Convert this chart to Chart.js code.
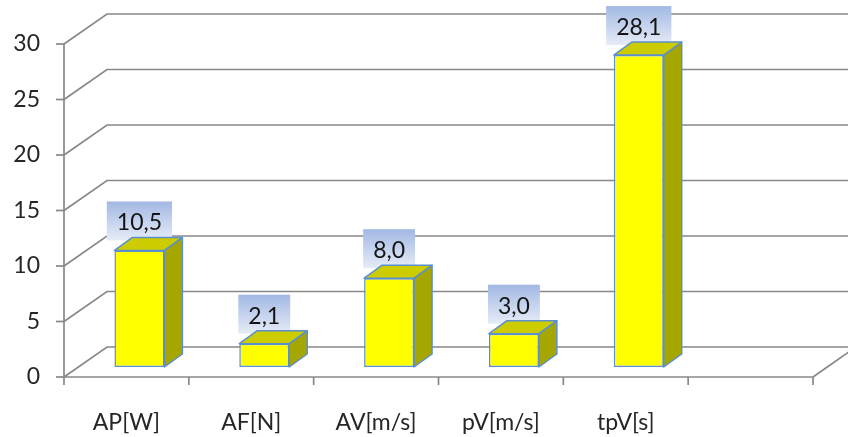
<!DOCTYPE html>
<html>
<head>
<meta charset="utf-8">
<script src="https://cdn.jsdelivr.net/npm/chart.js@4.4.1/dist/chart.umd.min.js"></script>
<style>
  html, body { margin: 0; padding: 0; background: #ffffff; }
  #wrap { width: 848px; height: 437px; }
</style>
</head>
<body>
<div id="wrap"><canvas id="chart" width="848" height="437"></canvas></div>
<script>
// Categories and measured values
const categories = ['AP[W]', 'AF[N]', 'AV[m/s]', 'pV[m/s]', 'tpV[s]', ''];
const values = [10.5, 2.1, 8.0, 3.0, 28.1, null];
const yMin = 0;
const yMax = 30;
const yStep = 5;

// Oblique projection offsets for the 3D look
const WALL_DX = 43, WALL_DY = -30;     // depth of the back wall
const BAR_DX = 13, BAR_DY = -10;       // where the bar row sits inside the box
const BAR_DEPTH_X = 18, BAR_DEPTH_Y = -13;

const GRID_COLOR = '#888888';
const FONT_FAMILY = 'Lato, "Open Sans", sans-serif';
const FONT_SIZE = 23;

const fmt = v => v.toFixed(1).replace('.', ',');

// Walls, floor and axes drawn from the chart scales
const box3d = {
  id: 'box3d',
  beforeDatasetsDraw(chart) {
    const { ctx, chartArea: a, scales: { x, y } } = chart;
    ctx.save();
    ctx.strokeStyle = GRID_COLOR;
    ctx.lineWidth = 1.7;
    ctx.lineCap = 'butt';
    // back-wall gridlines with their side-wall diagonals
    y.ticks.forEach(t => {
      const py = y.getPixelForValue(t.value);
      ctx.beginPath();
      ctx.moveTo(a.left, py);
      ctx.lineTo(a.left + WALL_DX, py + WALL_DY);
      ctx.lineTo(a.right + WALL_DX, py + WALL_DY);
      ctx.stroke();
    });
    // right edge of the floor
    ctx.beginPath();
    ctx.moveTo(a.right, a.bottom);
    ctx.lineTo(a.right + WALL_DX, a.bottom + WALL_DY);
    ctx.stroke();
    // front vertical axis + tick marks
    ctx.beginPath();
    ctx.moveTo(a.left, a.top);
    ctx.lineTo(a.left, a.bottom);
    ctx.stroke();
    y.ticks.forEach(t => {
      const py = y.getPixelForValue(t.value);
      ctx.beginPath();
      ctx.moveTo(a.left - 8, py);
      ctx.lineTo(a.left, py);
      ctx.stroke();
    });
    // front floor edge + category separators
    ctx.beginPath();
    ctx.moveTo(a.left, a.bottom);
    ctx.lineTo(a.right, a.bottom);
    ctx.stroke();
    const catW = (a.right - a.left) / categories.length;
    for (let i = 0; i <= categories.length; i++) {
      const px = x.getPixelForValue(0) - catW / 2 + i * catW;
      ctx.beginPath();
      ctx.moveTo(px, a.bottom);
      ctx.lineTo(px, a.bottom + 8);
      ctx.stroke();
    }

    // value boxes sit behind the bars
    const meta = chart.getDatasetMeta(0);
    ctx.font = FONT_SIZE + 'px ' + FONT_FAMILY;
    meta.data.forEach((bar, i) => {
      const v = values[i];
      if (v === null || v === undefined) return;
      const txt = fmt(v);
      const tw = ctx.measureText(txt).width;
      const w = tw + 20, h = 39;
      const cx = bar.x + BAR_DX;
      const bottom = bar.y + BAR_DY - 10;
      const top = bottom - h;
      const g = ctx.createLinearGradient(0, top, 0, bottom);
      g.addColorStop(0, '#a2b8e3');
      g.addColorStop(1, '#e6ecf7');
      ctx.fillStyle = g;
      ctx.fillRect(cx - w / 2, top, w, h);
      ctx.fillStyle = '#141414';
      ctx.textAlign = 'center';
      ctx.textBaseline = 'middle';
      ctx.fillText(txt, cx, top + h / 2 + 2);
    });
    ctx.restore();

    // shift the bar row back into the box for the dataset pass
    ctx.save();
    ctx.translate(BAR_DX, BAR_DY);
  },
  afterDatasetsDraw(chart) {
    const { ctx } = chart;
    const meta = chart.getDatasetMeta(0);
    ctx.lineWidth = 1.5;
    ctx.strokeStyle = '#5b8fcf';
    ctx.lineJoin = 'round';
    meta.data.forEach((bar, i) => {
      if (values[i] === null || values[i] === undefined) return;
      const l = bar.x - bar.width / 2, r = bar.x + bar.width / 2;
      const t = bar.y, b = bar.base;
      // side face
      ctx.beginPath();
      ctx.moveTo(r, t);
      ctx.lineTo(r + BAR_DEPTH_X, t + BAR_DEPTH_Y);
      ctx.lineTo(r + BAR_DEPTH_X, b + BAR_DEPTH_Y);
      ctx.lineTo(r, b);
      ctx.closePath();
      ctx.fillStyle = '#a6a600';
      ctx.fill();
      ctx.stroke();
      // top face
      ctx.beginPath();
      ctx.moveTo(l, t);
      ctx.lineTo(l + BAR_DEPTH_X, t + BAR_DEPTH_Y);
      ctx.lineTo(r + BAR_DEPTH_X, t + BAR_DEPTH_Y);
      ctx.lineTo(r, t);
      ctx.closePath();
      ctx.fillStyle = '#cccc00';
      ctx.fill();
      ctx.stroke();
    });
    ctx.restore();
  }
};

new Chart(document.getElementById('chart'), {
  type: 'bar',
  data: {
    labels: categories,
    datasets: [{
      data: values,
      backgroundColor: '#ffff00',
      borderColor: '#5b8fcf',
      borderWidth: 1.5,
      borderSkipped: false,
      barPercentage: 0.4,
      categoryPercentage: 1.0,
      clip: false
    }]
  },
  options: {
    responsive: false,
    animation: false,
    devicePixelRatio: 1,
    layout: { padding: { top: 44, right: 35, left: 0, bottom: 0 } },
    plugins: { legend: { display: false }, tooltip: { enabled: false } },
    scales: {
      x: {
        grid: { display: false, drawTicks: false },
        border: { display: false },
        ticks: {
          color: '#262626',
          font: { family: FONT_FAMILY, size: FONT_SIZE },
          padding: 32,
          maxRotation: 0,
          autoSkip: false
        },
        afterFit(scale) { scale.height = 60; }
      },
      y: {
        min: yMin,
        max: yMax,
        grid: { display: false, drawTicks: false },
        border: { display: false },
        ticks: {
          stepSize: yStep,
          color: '#262626',
          font: { family: FONT_FAMILY, size: FONT_SIZE },
          padding: 24
        },
        afterFit(scale) { scale.width = 64; }
      }
    }
  },
  plugins: [box3d]
});
</script>
</body>
</html>
